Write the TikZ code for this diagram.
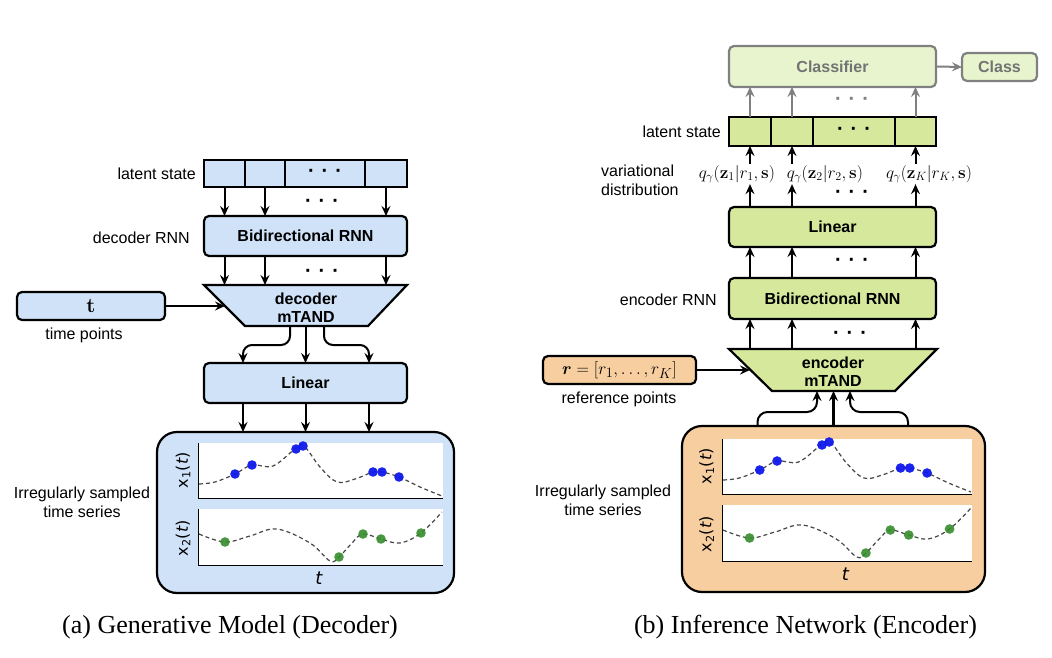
\documentclass[tikz,border=0pt]{standalone}
\usepackage[no-math]{fontspec}
\usepackage{amsmath,amssymb}
\usetikzlibrary{arrows.meta,calc}
\newfontfamily\lsans{Liberation Sans}
\newfontfamily\capfont{Liberation Serif}
\newfontfamily\dvs{DejaVu Sans}
\newcommand{\setfs}[1]{\fontsize{#1}{\dimexpr #1pt*6/5\relax}\selectfont}
\definecolor{bluefill}{RGB}{207,226,248}
\definecolor{greenfill}{RGB}{213,232,155}
\definecolor{palegreen}{RGB}{232,244,206}
\definecolor{orangefill}{RGB}{247,206,160}
\definecolor{graybd}{RGB}{128,128,128}
\definecolor{graytxt}{RGB}{115,115,115}
\definecolor{dotblue}{RGB}{15,25,235}
\definecolor{dotgreen}{RGB}{55,140,45}
\definecolor{curvegray}{RGB}{70,70,70}
\newcommand{\dotstext}{·\hspace{7pt}·\hspace{7pt}·}
\newcommand{\tsplots}{%
  \fill[white] (0,0) rectangle (245,55);
  \fill[white] (0,66) rectangle (245,122);
  \draw[line width=1pt] (0,0) -- (0,55) -- (245,55);
  \draw[line width=1pt] (0,66) -- (0,122) -- (245,122);
  \draw[curve] plot[smooth, tension=0.6] coordinates {(1,41) (17,39) (37,31) (54,22) (75,23) (97,6) (106,3) (122,24) (139,39) (157,36) (175,29) (184,29) (201,34) (222,44) (244,53)};
  \foreach \p in {(37,31),(54,22),(98,6),(105,3),(175,29),(184,29),(201,34)} \fill[dotblue, opacity=0.95] \p circle[radius=4.8pt];
  \draw[curve] plot[smooth, tension=0.6] coordinates {(1,91) (27,99) (52,93) (79,86) (112,100) (132,118) (141,114) (154,100) (165,91) (183,96) (202,100) (223,90) (244,69)};
  \foreach \p in {(27,99),(141,114),(165,91),(183,96),(223,90)} \fill[dotgreen, opacity=0.9] \p circle[radius=4.8pt];
  \node[rotate=90, font=\dvs\setfs{16}, inner sep=0] at (-15,27) {x\textsubscript{1}(\textit{t})};
  \node[rotate=90, font=\dvs\setfs{16}, inner sep=0] at (-15,95) {x\textsubscript{2}(\textit{t})};
  \node[font=\dvs\itshape\setfs{18}, inner sep=0] at (121,135) {t};
}
\begin{document}
\begin{tikzpicture}[x=1pt,y=-1pt,
  box/.style={draw, line width=2.2pt, rounded corners=5pt, font=\lsans\bfseries\setfs{16}, inner sep=0pt, outer sep=0pt},
  cell/.style={draw, line width=2.2pt, minimum height=27pt, inner sep=0pt, outer sep=0pt, font=\lsans\bfseries\setfs{20}},
  lbl/.style={font=\lsans\setfs{16}, inner sep=0pt},
  dotsn/.style={font=\lsans\bfseries\setfs{20}, inner sep=0pt},
  btxt/.style={font=\lsans\bfseries\setfs{16}, inner sep=0pt, align=center},
  trapline/.style={line width=2.2pt, line join=miter},
  arr/.style={-{Stealth[length=10pt,width=9pt,inset=3.5pt]}, line width=2pt},
  garr/.style={arr, draw=graybd},
  curve/.style={draw=curvegray, line width=1.2pt, dash pattern=on 4pt off 3pt},
  qlbl/.style={font=\setfs{17}, inner sep=1pt},
  tsbox/.style={draw, line width=2.2pt, rounded corners=20pt, inner sep=0pt, outer sep=0pt},
  captext/.style={font=\capfont\setfs{26}, inner sep=0pt}
]
\useasboundingbox (0,0) rectangle (1052,658);

% ================= LEFT PANEL (decoder) =================
\node[cell, fill=bluefill, minimum width=41pt] (la1) at (224.5,173.5) {};
\node[cell, fill=bluefill, minimum width=40pt] (la2) at (265,173.5) {};
\node[cell, fill=bluefill, minimum width=80pt] (lad) at (325,173.5) {\dotstext};
\node[cell, fill=bluefill, minimum width=42pt] (la3) at (386,173.5) {};
\node[lbl, anchor=east] (latA) at (196,174) {latent state};

\node[box, fill=bluefill, minimum width=203pt, minimum height=40pt] (birnnA) at (305.5,236) {Bidirectional RNN};
\node[lbl, anchor=east] (decrnn) at (190,238) {decoder RNN};
\foreach \c in {la1,la2,la3} \draw[arr] (\c.south) -- (\c.south |- birnnA.north);
\node[dotsn] (dA1) at (322,203) {\dotstext};

\coordinate (tAtl) at (204,285);
\coordinate (tAtr) at (407,285);
\coordinate (tAbr) at (368,326);
\coordinate (tAbl) at (245,326);
\draw[trapline, fill=bluefill] (tAtl) -- (tAtr) -- (tAbr) -- (tAbl) -- cycle;
\node[btxt] (trapA) at (306,308) {decoder\\[-1pt]mTAND};
\foreach \c in {la1,la2,la3} \draw[arr] (\c.south |- birnnA.south) -- (\c.south |- tAtl);
\node[dotsn] (dA2) at (322,273) {\dotstext};

\node[box, fill=bluefill, minimum width=148pt, minimum height=28pt, font=\setfs{20}] (tboxA) at (91,306) {$\mathbf{t}$};
\node[lbl] (tpA) at (84,335) {time points};
\coordinate (tAin) at (225,306);
\draw[arr] (tboxA.east) -- (tAin);

\node[box, fill=bluefill, minimum width=203pt, minimum height=40pt] (linA) at (305.5,383) {Linear};
\coordinate (lA1) at ([xshift=-62.5pt]linA.north);
\coordinate (lA2) at (linA.north);
\coordinate (lA3) at ([xshift=63.5pt]linA.north);
\coordinate (tAo1) at (290,326);
\coordinate (tAo2) at (305.5,326);
\coordinate (tAo3) at (324,326);
\draw[arr, rounded corners=9pt] (tAo1) |- ($(lA1)+(0,-18)$) -- (lA1);
\draw[arr] (tAo2) -- (lA2);
\draw[arr, rounded corners=9pt] (tAo3) |- ($(lA3)+(0,-18)$) -- (lA3);

\node[tsbox, fill=bluefill, minimum width=297pt, minimum height=161pt] (tsA) at (305.5,512.5) {};
\foreach \c in {lA1,lA2,lA3} \draw[arr] (\c |- linA.south) -- (\c |- tsA.north);
\begin{scope}[shift={(198,443)}]
  \tsplots
\end{scope}
\node[lbl, align=center] (irrA) at (82,502) {Irregularly sampled\\time series};

\node[captext] (capA) at (230,627) {(a) Generative Model (Decoder)};

% ================= RIGHT PANEL (encoder) =================
\node[box, draw=graybd, fill=palegreen, text=graytxt, minimum width=207pt, minimum height=41pt] (clsB) at (832.5,66.5) {Classifier};
\node[box, draw=graybd, fill=palegreen, text=graytxt, minimum width=75pt, minimum height=28pt] (classB) at (999.5,67) {Class};
\draw[garr] (clsB.east) -- (classB.west);

\node[cell, fill=greenfill, minimum width=42pt, minimum height=29pt] (lb1) at (750,131.5) {};
\node[cell, fill=greenfill, minimum width=42pt, minimum height=29pt] (lb2) at (792,131.5) {};
\node[cell, fill=greenfill, minimum width=82pt, minimum height=29pt] (lbd) at (854,131.5) {\dotstext};
\node[cell, fill=greenfill, minimum width=41pt, minimum height=29pt] (lb3) at (915.5,131.5) {};
\node[lbl, anchor=east] (latB) at (721,132) {latent state};
\foreach \c in {lb1,lb2,lb3} \draw[garr] (\c.north) -- (\c |- clsB.south);
\node[dotsn, text=graybd] (dB0) at (852,101) {\dotstext};

\node[qlbl] (q1) at (737,174) {$q_\gamma(\mathbf{z}_1|r_1,\mathbf{s})$};
\node[qlbl] (q2) at (825,174) {$q_\gamma(\mathbf{z}_2|r_2,\mathbf{s})$};
\node[qlbl] (q3) at (929,174) {$q_\gamma(\mathbf{z}_K|r_K,\mathbf{s})$};
\node[lbl, align=left, anchor=west] (varB) at (601,180) {variational\\distribution};

\node[box, fill=greenfill, minimum width=207pt, minimum height=40pt] (linB) at (832.5,227) {Linear};
\draw[arr] (lb1 |- linB.north) -- (lb1 |- q1.south);
\draw[arr] (lb2 |- linB.north) -- (lb2 |- q2.south);
\draw[arr] (lb3 |- linB.north) -- (lb3 |- q3.south);
\draw[arr] (lb1 |- q1.north) -- (lb1.south);
\draw[arr] (lb2 |- q2.north) -- (lb2.south);
\draw[arr] (lb3 |- q3.north) -- (lb3.south);
\node[dotsn] (dB1) at (852,194) {\dotstext};

\node[box, fill=greenfill, minimum width=207pt, minimum height=41pt] (birnnB) at (832.5,298.5) {Bidirectional RNN};
\node[lbl, anchor=east] (encrnn) at (717,300) {encoder RNN};
\foreach \c in {lb1,lb2,lb3} \draw[arr] (\c |- birnnB.north) -- (\c |- linB.south);
\node[dotsn] (dB2) at (852,262) {\dotstext};

\coordinate (tBtl) at (729,349);
\coordinate (tBtr) at (937,349);
\coordinate (tBbr) at (895,391);
\coordinate (tBbl) at (772,391);
\draw[trapline, fill=greenfill] (tBtl) -- (tBtr) -- (tBbr) -- (tBbl) -- cycle;
\node[btxt] (trapB) at (833,372) {encoder\\[-1pt]mTAND};
\foreach \c in {lb1,lb2,lb3} \draw[arr] (\c |- tBtl) -- (\c |- birnnB.south);
\node[dotsn] (dB3) at (850,335) {\dotstext};

\node[box, fill=orangefill, minimum width=153pt, minimum height=28pt, font=\setfs{19}] (rB) at (619.5,370) {$\boldsymbol{r}=[r_1,\ldots,r_K]$};
\node[lbl] (rpB) at (619,399) {reference points};
\coordinate (tBin) at (750,370);
\draw[arr] (rB.east) -- (tBin);

\node[tsbox, fill=orangefill, minimum width=303pt, minimum height=166pt] (tsB) at (833.5,509) {};
\coordinate (tBi1) at (817,391);
\coordinate (tBi2) at (833.5,391);
\coordinate (tBi3) at (850,391);
\coordinate (tsBo1) at ([xshift=-76pt]tsB.north);
\coordinate (tsBo3) at ([xshift=74.5pt]tsB.north);
\draw[arr, rounded corners=10pt] (tsBo1) |- ($(tBi1)+(0,21)$) -- (tBi1);
\draw[arr, line width=2.8pt] (tsB.north) -- (tBi2);
\draw[arr, rounded corners=10pt] (tsBo3) |- ($(tBi3)+(0,21)$) -- (tBi3);
\begin{scope}[shift={(722,439)}, xscale=1.0204]
  \tsplots
\end{scope}
\node[lbl, align=center] (irrB) at (603,500) {Irregularly sampled\\time series};

\node[captext] (capB) at (805.5,627) {(b) Inference Network (Encoder)};
\end{tikzpicture}
\end{document}
